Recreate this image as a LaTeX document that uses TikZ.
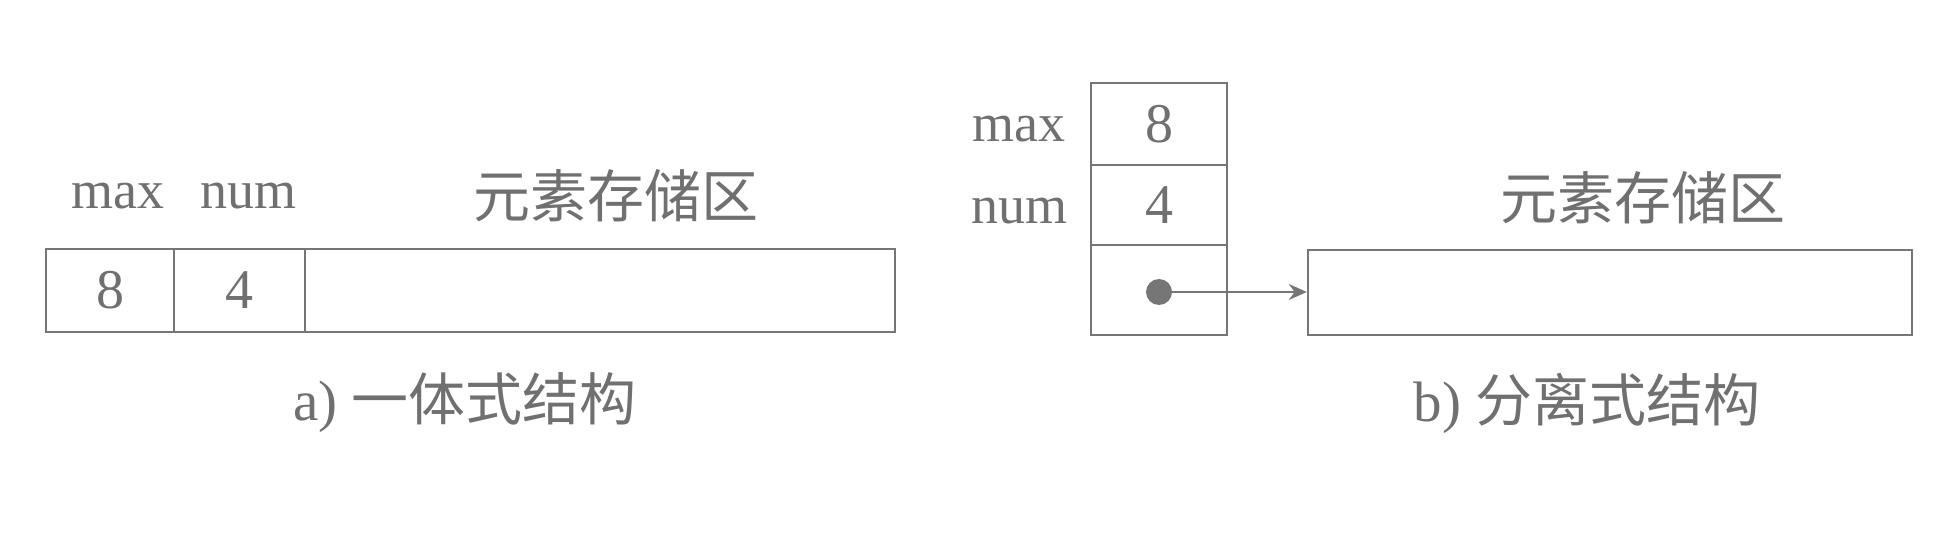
\documentclass[tikz,border=0pt]{standalone}
\usepackage{fontspec}
\setmainfont{Liberation Serif}
\newfontfamily\cjk{Noto Sans CJK SC}
\usetikzlibrary{arrows.meta}
\definecolor{linec}{HTML}{767676}
\definecolor{textc}{HTML}{707070}
\begin{document}
\begin{tikzpicture}[x=0.5pt,y=-0.5pt,
  cell/.style={draw=linec, line width=1.2pt, inner sep=0pt, text=textc, font=\fontsize{28}{30}\selectfont},
  lbl/.style={inner sep=0pt, text=textc, font=\fontsize{27}{30}\selectfont},
  cjklbl/.style={inner sep=0pt, text=textc, font=\fontsize{28.5}{30}\selectfont\cjk},
  captext/.style={inner sep=0pt, text=textc, font=\fontsize{28.5}{30}\selectfont}]
\useasboundingbox[fill=white] (0,0) rectangle (1944,534);
% a) integrated
\node[cell, minimum width=64pt, minimum height=41.5pt] (a1) at (110,290.5) {8};
\node[cell, minimum width=65.5pt, minimum height=41.5pt] (a2) at (239.5,290.5) {4};
\node[cell, minimum width=295pt, minimum height=41.5pt] (a3) at (600,290.5) {};
\node[lbl] (amax) at (118,196) {max};
\node[lbl] (anum) at (248,196) {num};
\node[cjklbl] (astore) at (616,196) {元素存储区};
\node[captext] (acap) at (465,403) {a) {\cjk 一体式结构}};
% b) separated
\node[cell, minimum width=68pt, minimum height=41pt] (b1) at (1159,124) {8};
\node[cell, minimum width=68pt, minimum height=40pt] (b2) at (1159,205) {4};
\node[cell, minimum width=68pt, minimum height=45pt] (b3) at (1159,290) {};
\node[lbl] (bmax) at (1019,129) {max};
\node[lbl] (bnum) at (1019,211) {num};
\node[circle, fill=linec, inner sep=0pt, minimum size=13pt] (dot) at (1159,292) {};
\node[cell, minimum width=302pt, minimum height=42.5pt] (bstore) at (1610,292.5) {};
\node[cjklbl] (bstorelbl) at (1643,198) {元素存储区};
\node[captext] (bcap) at (1587,403) {b) {\cjk 分离式结构}};
\draw[linec, line width=1.1pt, -{Stealth[length=9pt,width=8pt]}] (dot.center) -- (bstore.west |- dot.center);
\end{tikzpicture}
\end{document}
